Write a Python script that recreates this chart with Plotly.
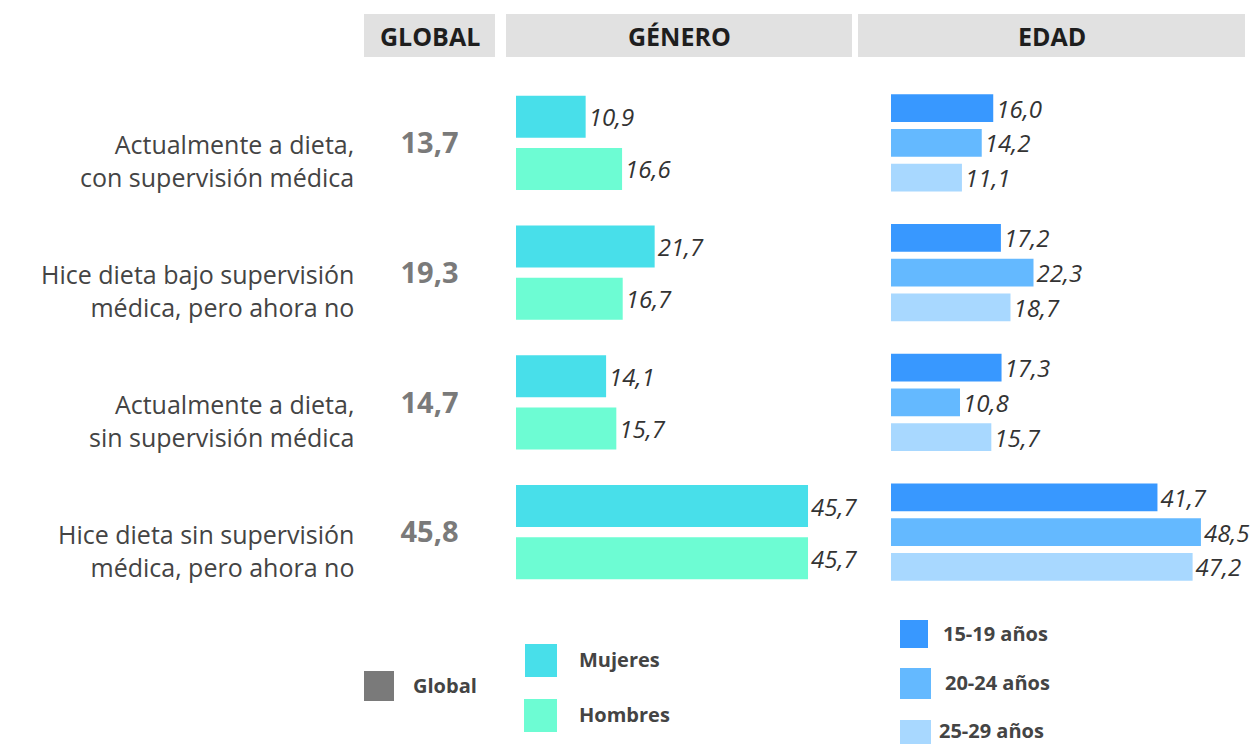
import plotly.graph_objects as go

categories = [
    "Actualmente a dieta,<br>con supervisión médica",
    "Hice dieta bajo supervisión<br>médica, pero ahora no",
    "Actualmente a dieta,<br>sin supervisión médica",
    "Hice dieta sin supervisión<br>médica, pero ahora no",
]
global_vals = [13.7, 19.3, 14.7, 45.8]
mujeres = [10.9, 21.7, 14.1, 45.7]
hombres = [16.6, 16.7, 15.7, 45.7]
edad_15_19 = [16.0, 17.2, 17.3, 41.7]
edad_20_24 = [14.2, 22.3, 10.8, 48.5]
edad_25_29 = [11.1, 18.7, 15.7, 47.2]

headers = ["GLOBAL", "GÉNERO", "EDAD"]
gender_names = ["Mujeres", "Hombres"]
age_names = ["15-19 años", "20-24 años", "25-29 años"]

C_GLOBAL = "#7a7a7a"
C_MUJ = "#48dfea"
C_HOM = "#6dfcd3"
C_A1 = "#3898ff"
C_A2 = "#64b9ff"
C_A3 = "#a8d8ff"

# page has an 8px body margin; work in page pixels and convert
OFF = 8
W, H = 1260 - OFF, 744 - OFF
FONT = "Open Sans"
PX_PER_UNIT = 6.39


def fmt(v):
    return f"{v:.1f}".replace(".", ",")


def px(x):
    return (x - OFF) / W


def py(y):
    return 1 - (y - OFF) / H


fig = go.Figure()

label_font = dict(family=FONT, size=24, color="#333333", style="italic")

for name, vals, col in [(gender_names[0], mujeres, C_MUJ), (gender_names[1], hombres, C_HOM)]:
    fig.add_trace(go.Bar(
        x=vals, y=categories, orientation="h", name=name,
        marker=dict(color=col, line=dict(width=0)),
        text=[fmt(v) for v in vals], textposition="outside", constraintext="none",
        textfont=label_font, cliponaxis=False,
        xaxis="x", yaxis="y", showlegend=False, hoverinfo="skip",
    ))

for name, vals, col in [(age_names[0], edad_15_19, C_A1), (age_names[1], edad_20_24, C_A2),
                        (age_names[2], edad_25_29, C_A3)]:
    fig.add_trace(go.Bar(
        x=vals, y=categories, orientation="h", name=name,
        marker=dict(color=col, line=dict(width=0)),
        text=[fmt(v) for v in vals], textposition="outside", constraintext="none",
        textfont=label_font, cliponaxis=False,
        xaxis="x2", yaxis="y2", showlegend=False, hoverinfo="skip",
    ))

# global values as text
fig.add_trace(go.Scatter(
    x=[0.5] * len(global_vals), y=categories, mode="text",
    text=[fmt(v) for v in global_vals],
    textfont=dict(family=FONT, size=29, color=C_GLOBAL, weight="bold"),
    textposition="middle center",
    xaxis="x3", yaxis="y3", showlegend=False, hoverinfo="skip", cliponaxis=False,
))

ydom = [py(600), py(81)]
yrange = [len(categories) - 0.5, -0.5]
g0, g1 = 516, 880
a0, a1 = 891, 1260

fig.update_layout(
    width=W, height=H,
    margin=dict(l=0, r=0, t=0, b=0),
    paper_bgcolor="white", plot_bgcolor="white",
    barmode="group", bargap=0.195, bargroupgap=0.2,
    xaxis=dict(domain=[px(g0), px(g1)], range=[0, (g1 - g0) / PX_PER_UNIT], visible=False, anchor="y"),
    yaxis=dict(domain=[py(597), py(78)], type="category", range=yrange, visible=False, anchor="x"),
    xaxis2=dict(domain=[px(a0), px(a1)], range=[0, (a1 - a0) / PX_PER_UNIT], visible=False, anchor="y2"),
    yaxis2=dict(domain=[py(597), py(78)], type="category", range=yrange, visible=False, anchor="x2"),
    xaxis3=dict(domain=[px(364), px(495)], range=[0, 1], visible=False, anchor="y3"),
    yaxis3=dict(domain=ydom, type="category", range=yrange, visible=False, anchor="x3"),
)

shapes = []
annotations = []

# headers
header_boxes = [(364, 495), (506, 852), (858, 1245)]
for txt, (x0, x1) in zip(headers, header_boxes):
    shapes.append(dict(type="rect", xref="paper", yref="paper", x0=px(x0), x1=px(x1),
                       y0=py(57), y1=py(14), fillcolor="#e1e1e1", line=dict(width=0), layer="below"))
    annotations.append(dict(xref="paper", yref="paper", x=px((x0 + x1) / 2), y=py(36), text=txt,
                            showarrow=False, xanchor="center", yanchor="middle",
                            font=dict(family=FONT, size=25, color="#1e1e1e", weight="bold")))

# category labels
for cat in categories:
    annotations.append(dict(xref="paper", yref="y", x=px(356), y=cat, text=cat, showarrow=False,
                            xanchor="right", yanchor="middle", align="right", yshift=-18,
                            font=dict(family=FONT, size=25, color="#444444")))

# legends
leg_font = dict(family=FONT, size=20, color="#444444", weight="bold")
legend_items = [
    ("Global", C_GLOBAL, 364, 394, 671, 701, 411),
    (gender_names[0], C_MUJ, 525, 557, 644, 677, 577),
    (gender_names[1], C_HOM, 524, 557, 699, 732, 577),
    (age_names[0], C_A1, 900, 928, 620, 648, 941),
    (age_names[1], C_A2, 900, 931, 668, 699, 943),
    (age_names[2], C_A3, 900, 931, 720, 752, 937),
]
for txt, col, x0, x1, y0, y1, tx in legend_items:
    shapes.append(dict(type="rect", xref="paper", yref="paper", x0=px(x0), x1=px(x1),
                       y0=py(y1), y1=py(y0), fillcolor=col, line=dict(width=0)))
    ty = (y0 + y1) / 2 - 1
    if txt == age_names[2]:
        ty = 730
    annotations.append(dict(xref="paper", yref="paper", x=px(tx), y=py(ty), text=txt,
                            showarrow=False, xanchor="left", yanchor="middle", font=leg_font))

fig.update_layout(shapes=shapes, annotations=annotations)

fig.write_html("out.html")
